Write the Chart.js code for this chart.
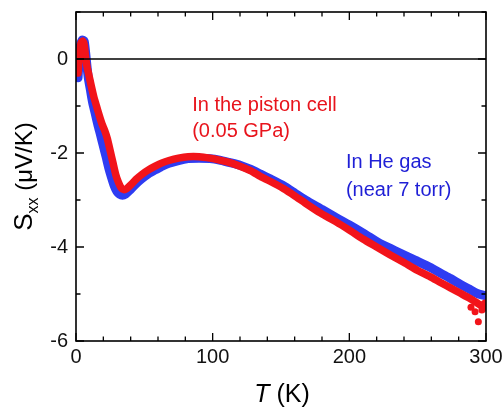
<!DOCTYPE html>
<html>
<head>
<meta charset="utf-8">
<script src="https://cdn.jsdelivr.net/npm/chart.js@4/dist/chart.umd.min.js"></script>
<style>
html,body{margin:0;padding:0;background:#fff;}
#wrap{width:503px;height:411px;position:relative;}
</style>
</head>
<body>
<div id="wrap"><canvas id="c" width="503" height="411"></canvas></div>
<script>
// ---- data ----
const heT   = [1.5,2.2,3,4.5,6,7,8,9,10.5,12,14,16,18,20,22,24,26,28,30,32,34,36,39,43,48,53,58,63,68,75,82,90,98,105,112,120,128,135,142,152,160,168,180,190,200,211,222,230,237,248,259,267,274,281,288,293,297,300];
const heS   = [-0.4,-0.05,0.25,0.4,0.38,0.15,-0.15,-0.4,-0.65,-0.9,-1.15,-1.4,-1.62,-1.85,-2.08,-2.32,-2.52,-2.7,-2.82,-2.88,-2.9,-2.88,-2.8,-2.68,-2.55,-2.44,-2.36,-2.28,-2.22,-2.16,-2.12,-2.11,-2.12,-2.15,-2.2,-2.26,-2.35,-2.45,-2.55,-2.7,-2.85,-3.0,-3.2,-3.37,-3.53,-3.72,-3.92,-4.03,-4.13,-4.28,-4.43,-4.56,-4.67,-4.79,-4.9,-4.98,-5.02,-5.04];
const pistonT = [1.5,2,2.8,3.8,5,6,7,8,9.5,11,13,15,17,19,21,23,25,27,29,31,33,35,37,40,44,48,53,58,63,68,75,82,90,98,105,112,120,128,135,142,152,160,168,179,190,200,210,220,230,240,250,259,267,274,281,288,293,297,299];
const pistonS = [-0.3,-0.05,0.2,0.35,0.38,0.3,0.05,-0.15,-0.35,-0.55,-0.8,-1.0,-1.2,-1.38,-1.52,-1.7,-1.95,-2.2,-2.45,-2.62,-2.74,-2.78,-2.76,-2.68,-2.56,-2.46,-2.36,-2.28,-2.21,-2.16,-2.11,-2.08,-2.08,-2.11,-2.15,-2.2,-2.28,-2.38,-2.5,-2.6,-2.76,-2.91,-3.07,-3.28,-3.46,-3.64,-3.83,-4.0,-4.17,-4.33,-4.5,-4.63,-4.76,-4.87,-4.98,-5.09,-5.18,-5.25,-5.2];
const pistonOutT = [289,292,294.4,297,299];
const pistonOutS = [-5.28,-5.38,-5.59,-5.34,-5.3];
const zeroT = [0,300];
const zeroS = [0,0];
const xMajor = [0,100,200,300];
const xMinor = [20,40,60,80,120,140,160,180,220,240,260,280];
const yMajor = [0,-2,-4,-6];
const yMinor = [1,-1,-3,-5];
const labelPiston = ["In the piston cell","(0.05 GPa)"];
const labelHe = ["In He gas","(near 7 torr)"];

const pts = (xs, ys) => xs.map((x,i)=>({x:x,y:ys[i]}));
const FONT = "'Liberation Sans', Arial, sans-serif";
const RED = '#f2141a', BLUE = '#2e3cf2';

const decor = {
  id:'decor',
  afterDatasetsDraw(chart){
    const ctx = chart.ctx, a = chart.chartArea, xs = chart.scales.x, ys = chart.scales.y;
    ctx.save();
    ctx.strokeStyle = '#000'; ctx.lineWidth = 1.6;
    ctx.strokeRect(a.left, a.top, a.right-a.left, a.bottom-a.top);
    ctx.lineWidth = 1.3;
    const tick = (vals, len, axis) => {
      vals.forEach(v=>{
        ctx.beginPath();
        if(axis==='x'){
          const p = xs.getPixelForValue(v);
          ctx.moveTo(p,a.bottom); ctx.lineTo(p,a.bottom-len);
          ctx.moveTo(p,a.top); ctx.lineTo(p,a.top+len);
        } else {
          const p = ys.getPixelForValue(v);
          ctx.moveTo(a.left,p); ctx.lineTo(a.left+len,p);
          ctx.moveTo(a.right,p); ctx.lineTo(a.right-len,p);
        }
        ctx.stroke();
      });
    };
    tick(xMajor,8,'x'); tick(xMinor,4.5,'x'); tick(yMajor,8,'y'); tick(yMinor,4.5,'y');

    // annotations
    ctx.textBaseline = 'middle'; ctx.textAlign = 'left';
    ctx.font = '20px ' + FONT;
    ctx.fillStyle = '#e8141c';
    ctx.fillText(labelPiston[0], xs.getPixelForValue(85), ys.getPixelForValue(-0.98));
    ctx.fillText(labelPiston[1], xs.getPixelForValue(85), ys.getPixelForValue(-1.55));
    ctx.fillStyle = '#1f1fd6';
    ctx.fillText(labelHe[0], xs.getPixelForValue(197.5), ys.getPixelForValue(-2.21));
    ctx.fillText(labelHe[1], xs.getPixelForValue(197.5), ys.getPixelForValue(-2.79));

    // x title
    ctx.fillStyle = '#000';
    const fT = 'italic 25px ' + FONT, fK = '25px ' + FONT;
    ctx.font = fT; const wT = ctx.measureText('T').width;
    ctx.font = fK; const wK = ctx.measureText(' (K)').width;
    const cx = (a.left+a.right)/2 + 1;
    let x0 = cx - (wT+wK)/2;
    ctx.textAlign='left'; ctx.textBaseline='alphabetic';
    ctx.font = fT; ctx.fillText('T', x0, 402);
    ctx.font = fK; ctx.fillText(' (K)', x0+wT, 402);

    // y title (rotated)
    const fS = '26px ' + FONT, fSub = '16px ' + FONT, fU = '24px ' + FONT;
    ctx.font = fS; const wS = ctx.measureText('S').width;
    ctx.font = fSub; const wSub = ctx.measureText('xx').width;
    ctx.font = fU; const wU = ctx.measureText(' (μV/K)').width;
    const tot = wS + wSub + wU;
    ctx.translate(32, (a.top+a.bottom)/2);
    ctx.rotate(-Math.PI/2);
    let s = -tot/2;
    ctx.font = fS; ctx.fillText('S', s, 0); s += wS;
    ctx.font = fSub; ctx.fillText('xx', s, 6); s += wSub;
    ctx.font = fU; ctx.fillText(' (μV/K)', s, 0);
    ctx.restore();
  }
};

new Chart(document.getElementById('c'), {
  type:'scatter',
  data:{datasets:[
    {data:pts(zeroT,zeroS), showLine:true, borderColor:'#000', borderWidth:1.5, pointRadius:0, order:0},
    {data:pts(pistonOutT,pistonOutS), backgroundColor:RED, borderColor:RED, pointRadius:3.5, borderWidth:0, order:1},
    {data:pts(pistonT,pistonS), showLine:true, borderColor:RED, backgroundColor:RED, borderWidth:7.5, pointRadius:0, borderJoinStyle:'round', borderCapStyle:'round', tension:0.2, order:2},
    {data:pts(heT,heS), showLine:true, borderColor:BLUE, backgroundColor:BLUE, borderWidth:9, pointRadius:0, borderJoinStyle:'round', borderCapStyle:'round', tension:0.2, order:3}
  ]},
  options:{
    responsive:false, animation:false,
    layout:{padding:{top:12,right:17,left:0,bottom:0}},
    plugins:{legend:{display:false}, tooltip:{enabled:false}},
    scales:{
      x:{type:'linear', min:0, max:300,
        afterFit(s){ s.height = 70; s.paddingLeft = 0; s.paddingRight = 0; },
        afterBuildTicks(s){ s.ticks = xMajor.map(v=>({value:v})); },
        grid:{display:false, drawTicks:false}, border:{display:false},
        ticks:{color:'#111', padding:4, font:{family:FONT, size:20}, maxRotation:0}
      },
      y:{type:'linear', min:-6, max:1,
        afterFit(s){ s.width = 76; s.paddingTop = 0; s.paddingBottom = 0; },
        afterBuildTicks(s){ s.ticks = yMajor.map(v=>({value:v})); },
        grid:{display:false, drawTicks:false}, border:{display:false},
        ticks:{color:'#111', padding:8, font:{family:FONT, size:20}}
      }
    }
  },
  plugins:[decor]
});
</script>
</body>
</html>
